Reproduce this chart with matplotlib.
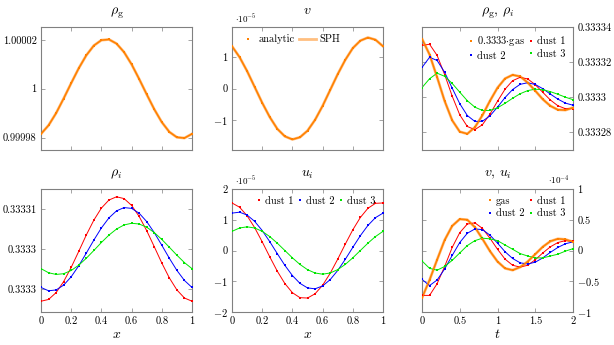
import matplotlib
matplotlib.use("Agg")
import matplotlib.pyplot as plt

plt.rcParams["font.family"] = ["cmr10", "DejaVu Serif"]
plt.rcParams["mathtext.fontset"] = "cm"
plt.rcParams["axes.formatter.use_mathtext"] = True
plt.rcParams["axes.unicode_minus"] = False

# positions along the box / times
x = [0.00, 0.05, 0.10, 0.15, 0.20, 0.25, 0.30, 0.35, 0.40, 0.45, 0.50,
     0.55, 0.60, 0.65, 0.70, 0.75, 0.80, 0.85, 0.90, 0.95, 1.00]
t = [0.0, 0.1, 0.2, 0.3, 0.4, 0.5, 0.6, 0.7, 0.8, 0.9, 1.0,
     1.1, 1.2, 1.3, 1.4, 1.5, 1.6, 1.7, 1.8, 1.9, 2.0]

# gas density - 1, in 1e-5
rho_g = [-1.85, -1.50, -1.00, -0.40, 0.23, 0.84, 1.37, 1.77, 1.99, 2.02, 1.85,
         1.50, 1.00, 0.40, -0.23, -0.84, -1.37, -1.77, -1.99, -2.02, -1.85]
# gas velocity, in 1e-5
v_gas = [1.36, 1.01, 0.56, 0.05, -0.46, -0.92, -1.30, -1.54, -1.64, -1.57, -1.36,
         -1.01, -0.56, -0.05, 0.46, 0.92, 1.30, 1.54, 1.64, 1.57, 1.36]

# densities vs time, (rho - 0.3333) in 1e-5
gas_t = [3.34, 2.44, 1.14, -0.23, -1.34, -1.99, -2.11, -1.74, -1.05, -0.22, 0.53,
         1.06, 1.27, 1.18, 0.83, 0.36, -0.13, -0.51, -0.73, -0.75, -0.61]
dust1_t = [2.96, 3.03, 2.39, 1.29, 0.05, -1.02, -1.69, -1.87, -1.59, -0.98, -0.24,
           0.45, 0.94, 1.13, 1.04, 0.71, 0.27, -0.17, -0.50, -0.67, -0.66]
dust2_t = [1.70, 2.28, 2.10, 1.42, 0.51, -0.38, -1.06, -1.40, -1.39, -1.08, -0.58,
           -0.03, 0.43, 0.73, 0.82, 0.72, 0.48, 0.17, -0.12, -0.35, -0.47]
dust3_t = [0.54, 1.05, 1.37, 1.19, 0.78, 0.28, -0.21, -0.58, -0.77, -0.77, -0.62,
           -0.36, -0.07, 0.19, 0.37, 0.45, 0.42, 0.31, 0.16, -0.01, -0.15]

# dust densities vs x, (rho - 0.3333) in 1e-5
dust1_rho = [-0.149, -0.127, -0.042, 0.095, 0.272, 0.471, 0.674, 0.859, 1.009, 1.109, 1.149,
             1.127, 1.042, 0.905, 0.728, 0.529, 0.326, 0.141, -0.009, -0.109, -0.149]
dust2_rho = [0.022, -0.019, -0.009, 0.051, 0.155, 0.292, 0.449, 0.611, 0.762, 0.887, 0.974,
             1.015, 1.005, 0.945, 0.841, 0.704, 0.547, 0.385, 0.234, 0.109, 0.022]
dust3_rho = [0.256, 0.205, 0.184, 0.193, 0.233, 0.299, 0.385, 0.482, 0.581, 0.673, 0.748,
             0.799, 0.820, 0.811, 0.771, 0.705, 0.619, 0.522, 0.423, 0.331, 0.256]

# dust velocities vs x, in 1e-5
dust1_u = [1.546, 1.408, 1.131, 0.743, 0.283, -0.205, -0.673, -1.074, -1.372, -1.534, -1.546,
           -1.408, -1.131, -0.743, -0.283, 0.205, 0.673, 1.074, 1.372, 1.534, 1.546]
dust2_u = [1.216, 1.246, 1.153, 0.948, 0.650, 0.288, -0.102, -0.482, -0.815, -1.068, -1.216,
           -1.246, -1.153, -0.948, -0.650, -0.288, 0.102, 0.482, 0.815, 1.068, 1.216]
dust3_u = [0.623, 0.732, 0.770, 0.732, 0.623, 0.453, 0.238, 0.0, -0.238, -0.453, -0.623,
           -0.732, -0.770, -0.732, -0.623, -0.453, -0.238, 0.0, 0.238, 0.453, 0.623]

# velocities vs time, in 1e-4
gas_vt = [-0.77, -0.48, -0.15, 0.17, 0.40, 0.51, 0.50, 0.38, 0.19, -0.01, -0.18,
          -0.29, -0.32, -0.27, -0.18, -0.06, 0.06, 0.15, 0.19, 0.18, 0.14]
dust1_vt = [-0.73, -0.73, -0.54, -0.26, 0.05, 0.29, 0.43, 0.45, 0.36, 0.20, 0.02,
            -0.14, -0.24, -0.27, -0.24, -0.15, -0.04, 0.06, 0.13, 0.16, 0.15]
dust2_vt = [-0.47, -0.57, -0.48, -0.30, -0.08, 0.13, 0.28, 0.35, 0.34, 0.25, 0.12,
            -0.02, -0.13, -0.20, -0.22, -0.19, -0.12, -0.03, 0.05, 0.11, 0.14]
dust3_vt = [-0.17, -0.29, -0.32, -0.26, -0.16, -0.04, 0.08, 0.16, 0.20, 0.19, 0.16,
            0.09, 0.02, -0.05, -0.09, -0.12, -0.12, -0.09, -0.06, -0.01, 0.03]

ORANGE = "#ff8000"
LIGHT_ORANGE = "#ffbf80"
RED = "#ff0000"
BLUE = "#0000ff"
GREEN = "#00e600"
FRAME = "#808080"
FS = 7.5


def style(ax, xticks, xlabels, yticks, ylabels, right=False):
    for s in ax.spines.values():
        s.set_color(FRAME)
        s.set_linewidth(0.8)
    ax.tick_params(direction="in", length=3, width=0.5, color=FRAME,
                   top=True, right=True, left=True, bottom=True,
                   labelsize=FS, pad=3)
    ax.set_xticks(xticks)
    ax.set_xticklabels(xlabels)
    ax.set_yticks(yticks)
    ax.set_yticklabels(ylabels)
    if right:
        ax.tick_params(labelleft=False, labelright=True)


def gas(ax, xs, ys):
    # SPH: light orange line; analytic: dense orange squares
    sph = ax.plot(xs, ys, color=LIGHT_ORANGE, lw=2.0, zorder=2)[0]
    ax.plot(xs, ys, color=ORANGE, lw=1.1, zorder=3)
    ana = ax.plot(xs, ys, ls="none", marker="s", ms=1.7, mew=0,
                  color=ORANGE, zorder=4)[0]
    return ana, sph


def dust(ax, xs, ys, color):
    ax.plot(xs, ys, color=color, lw=0.7, zorder=2)
    return ax.plot(xs, ys, ls="none", marker="s", ms=1.8, mew=0,
                   color=color, zorder=3)[0]


fig = plt.figure(figsize=(6.14, 3.45), dpi=100)
W = 151 / 614
H = 123 / 345
top_b = 1 - 150 / 345
bot_b = 1 - 312 / 345
ax1 = fig.add_axes([41 / 614, top_b, W, H])
ax2 = fig.add_axes([232 / 614, top_b, W, H])
ax3 = fig.add_axes([422 / 614, top_b, W, H])
ax4 = fig.add_axes([41 / 614, bot_b, W, H])
ax5 = fig.add_axes([232 / 614, bot_b, W, H])
ax6 = fig.add_axes([422 / 614, bot_b, W, H])

xt = [0, 0.2, 0.4, 0.6, 0.8, 1]
xtl = ["0", "0.2", "0.4", "0.6", "0.8", "1"]
tt = [0, 0.5, 1, 1.5, 2]
ttl = ["0", "0.5", "1", "1.5", "2"]
leg_kw = dict(frameon=False, fontsize=FS, handletextpad=0.3,
              columnspacing=0.4, borderaxespad=0.3, labelspacing=0.3)

# rho_g
gas(ax1, x, rho_g)
ax1.set_xlim(0, 1)
ax1.set_ylim(-2.51, 2.53)
style(ax1, xt, [], [-2, 0, 2], ["0.99998", "1", "1.00002"])
ax1.set_title(r"$\rho_{\rm g}$", fontsize=10, pad=9)

# v
h_a, h_s = gas(ax2, x, v_gas)
ax2.set_xlim(0, 1)
ax2.set_ylim(-1.98, 1.98)
style(ax2, xt, [], [-1, 0, 1], ["$-1$", "0", "1"])
ax2.set_title(r"$v$", fontsize=10, pad=9)
ax2.text(0.02, 1.02, r"$\cdot 10^{-5}$", transform=ax2.transAxes,
         fontsize=6.5, va="bottom", ha="left")
ax2.legend([h_a, h_s], ["analytic", "SPH"], loc="upper left", ncol=2,
           handlelength=1.6, **leg_kw)

# rho_g, rho_i vs t
hg, _ = gas(ax3, t, gas_t)
hd1 = dust(ax3, t, dust1_t, RED)
hd2 = dust(ax3, t, dust2_t, BLUE)
hd3 = dust(ax3, t, dust3_t, GREEN)
ax3.set_xlim(0, 2)
ax3.set_ylim(-3.04, 4.02)
style(ax3, tt, [], [-2, 0, 2, 4], ["0.33328", "0.3333", "0.33332", "0.33334"], right=True)
ax3.set_title(r"$\rho_{\rm g},\, \rho_i$", fontsize=10, pad=9)
ax3.legend([hg, hd2, hd1, hd3], [r"0.3333$\cdot$gas", "dust 2", "dust 1", "dust 3"],
           loc="upper right", ncol=2, handlelength=0.5, **leg_kw)

# rho_i vs x
dust(ax4, x, dust1_rho, RED)
dust(ax4, x, dust2_rho, BLUE)
dust(ax4, x, dust3_rho, GREEN)
ax4.set_xlim(0, 1)
ax4.set_ylim(-0.283, 1.246)
style(ax4, xt, xtl, [0, 0.5, 1], ["0.3333", "0.3333", "0.33331"])
ax4.set_title(r"$\rho_i$", fontsize=10, pad=9)
ax4.set_xlabel(r"$x$", fontsize=10, labelpad=2)

# u_i vs x
hd1 = dust(ax5, x, dust1_u, RED)
hd2 = dust(ax5, x, dust2_u, BLUE)
hd3 = dust(ax5, x, dust3_u, GREEN)
ax5.set_xlim(0, 1)
ax5.set_ylim(-2, 2)
style(ax5, xt, xtl, [-2, -1, 0, 1, 2], ["$-2$", "$-1$", "0", "1", "2"])
ax5.set_title(r"$u_i$", fontsize=10, pad=9)
ax5.set_xlabel(r"$x$", fontsize=10, labelpad=2)
ax5.text(0.02, 1.02, r"$\cdot 10^{-5}$", transform=ax5.transAxes,
         fontsize=6.5, va="bottom", ha="left")
ax5.legend([hd1, hd2, hd3], ["dust 1", "dust 2", "dust 3"],
           loc="upper right", ncol=3, handlelength=0.5, **leg_kw)

# v, u_i vs t
hg, _ = gas(ax6, t, gas_vt)
hd1 = dust(ax6, t, dust1_vt, RED)
hd2 = dust(ax6, t, dust2_vt, BLUE)
hd3 = dust(ax6, t, dust3_vt, GREEN)
ax6.set_xlim(0, 2)
ax6.set_ylim(-1, 1)
style(ax6, tt, ttl, [-1, -0.5, 0, 0.5, 1], ["$-1$", "$-0.5$", "0", "0.5", "1"], right=True)
ax6.set_title(r"$v,\, u_i$", fontsize=10, pad=9)
ax6.set_xlabel(r"$t$", fontsize=10, labelpad=2)
ax6.text(0.98, 1.02, r"$\cdot 10^{-4}$", transform=ax6.transAxes,
         fontsize=6.5, va="bottom", ha="right")
ax6.legend([hg, hd2, hd1, hd3], ["gas", "dust 2", "dust 1", "dust 3"],
           loc="upper right", ncol=2, handlelength=0.5, **leg_kw)

fig.savefig("out.png", dpi=100)
